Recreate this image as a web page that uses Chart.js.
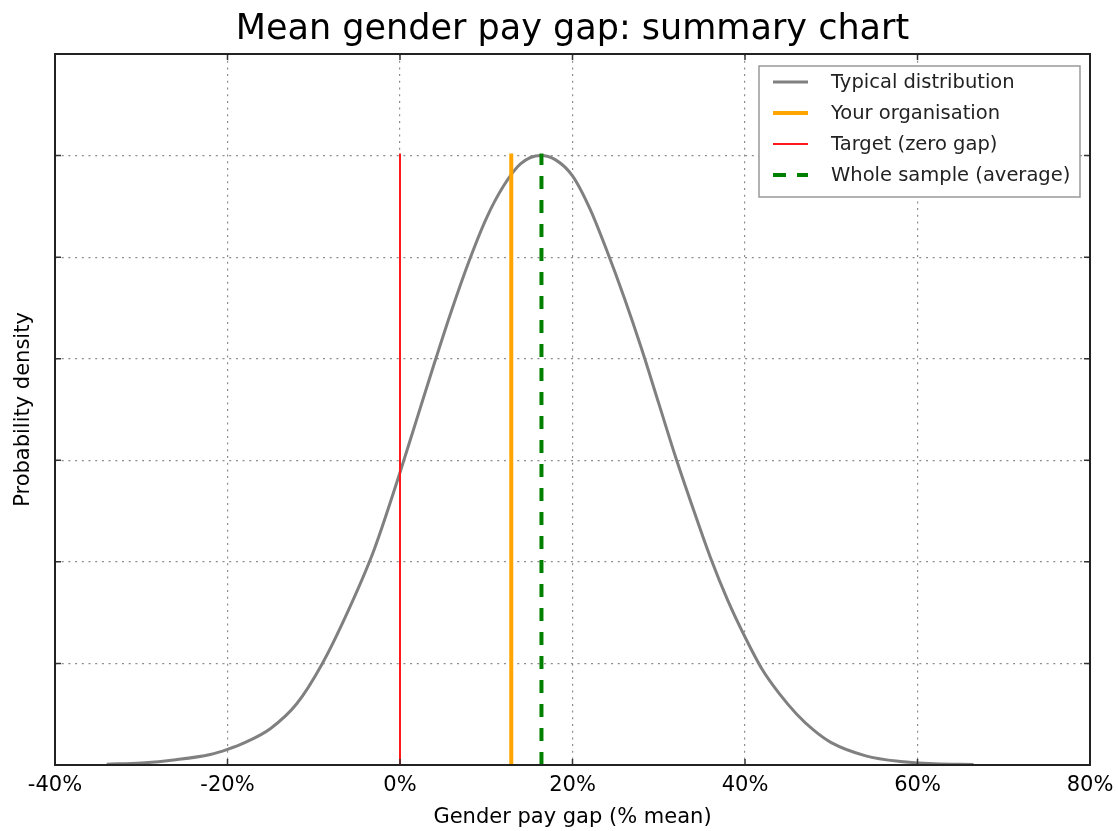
<!DOCTYPE html>
<html>
<head>
<meta charset="utf-8">
<title>Mean gender pay gap: summary chart</title>
<script src="https://cdn.jsdelivr.net/npm/chart.js@4.4.0/dist/chart.umd.min.js"></script>
<style>
  html, body { margin: 0; padding: 0; background: #fff; }
</style>
</head>
<body>
<canvas id="gapChart" width="1118" height="831"></canvas>
<script>
// values
const gapPct = [-34, -30, -26, -22, -20, -18, -15, -12, -9, -6, -3, 0, 2, 4, 6, 8, 10, 12, 14, 16.3,
  18, 20, 22, 24, 26, 28, 30, 32, 34, 36, 38, 40, 42, 44, 46, 48, 50, 54, 58, 62, 66.5];
const density = [0.00004, 0.0001, 0.00026, 0.00052, 0.00077, 0.0011, 0.0018, 0.0030, 0.0050, 0.0076,
  0.0106, 0.0144, 0.0171, 0.0198, 0.0224, 0.0248, 0.0269, 0.0285, 0.0296, 0.0300,
  0.0298, 0.0290, 0.0274, 0.0253, 0.0230, 0.0205, 0.0178, 0.0151, 0.0126, 0.0102,
  0.0081, 0.0063, 0.0047, 0.0035, 0.0025, 0.0017, 0.0011, 0.00045, 0.00017, 0.00006, 0.00003];

const orgGap = 12.9;      // your organisation
const targetGap = 0;      // zero gap
const sampleGap = 16.4;   // whole sample average
const markerTop = 0.0301; // height of the vertical markers

const xTicks = [-40, -20, 0, 20, 40, 60, 80];

const FONT = "'DejaVu Sans', 'Liberation Sans', Arial, sans-serif";
Chart.defaults.font.family = FONT;
Chart.defaults.color = "#111";

function vline(x) {
  return [{ x: x, y: 0 }, { x: x, y: markerTop }];
}

// frame with inward ticks, like the original plot
const frame = {
  id: "frame",
  afterDatasetsDraw(chart) {
    const { ctx, chartArea: a, scales } = chart;
    ctx.save();
    ctx.strokeStyle = "#333";
    ctx.lineWidth = 1.5;
    const t = 6;
    ctx.beginPath();
    xTicks.forEach(v => {
      const px = scales.x.getPixelForValue(v);
      ctx.moveTo(px, a.bottom); ctx.lineTo(px, a.bottom - t);
      ctx.moveTo(px, a.top); ctx.lineTo(px, a.top + t);
    });
    scales.y.ticks.forEach(tk => {
      const py = scales.y.getPixelForValue(tk.value);
      ctx.moveTo(a.left, py); ctx.lineTo(a.left + t, py);
      ctx.moveTo(a.right, py); ctx.lineTo(a.right - t, py);
    });
    ctx.stroke();
    ctx.lineWidth = 2;
    ctx.strokeStyle = "#222";
    ctx.strokeRect(a.left, a.top, a.right - a.left, a.bottom - a.top);
    ctx.restore();
  }
};

const legendBox = {
  id: "legendBox",
  afterDraw(chart) {
    const { ctx, chartArea } = chart;
    const w = 321, h = 131;
    const x0 = chartArea.right - 10 - w;
    const y0 = chartArea.top + 12;
    ctx.save();
    ctx.fillStyle = "#fff";
    ctx.fillRect(x0, y0, w, h);
    ctx.strokeStyle = "#999";
    ctx.lineWidth = 1.5;
    ctx.strokeRect(x0, y0, w, h);
    ctx.font = "19.5px " + FONT;
    ctx.textBaseline = "middle";
    chart.data.datasets.forEach((ds, i) => {
      const y = y0 + 16 + i * 31;
      ctx.beginPath();
      ctx.strokeStyle = ds.borderColor;
      ctx.lineWidth = ds.borderWidth;
      ctx.setLineDash(ds.borderDash || []);
      ctx.moveTo(x0 + 14, y);
      ctx.lineTo(x0 + 49, y);
      ctx.stroke();
      ctx.setLineDash([]);
      ctx.fillStyle = "#222";
      ctx.fillText(ds.label, x0 + 72, y + 1);
    });
    ctx.restore();
  }
};

new Chart(document.getElementById("gapChart"), {
  type: "line",
  data: {
    datasets: [
      {
        label: "Typical distribution",
        data: gapPct.map((g, i) => ({ x: g, y: density[i] })),
        borderColor: "#808080",
        borderWidth: 3,
        cubicInterpolationMode: "monotone",
        order: 4
      },
      {
        label: "Your organisation",
        data: vline(orgGap),
        borderColor: "#ffa500",
        borderWidth: 4,
        order: 2
      },
      {
        label: "Target (zero gap)",
        data: vline(targetGap),
        borderColor: "#ff1a1a",
        borderWidth: 2,
        order: 3
      },
      {
        label: "Whole sample (average)",
        data: vline(sampleGap),
        borderColor: "#008000",
        borderWidth: 4,
        borderDash: [13, 11],
        order: 1
      }
    ]
  },
  options: {
    responsive: false,
    animation: false,
    elements: { point: { radius: 0 } },
    layout: { padding: { left: 0, right: 28, top: 0, bottom: 0 } },
    plugins: {
      legend: { display: false },
      tooltip: { enabled: false },
      title: {
        display: true,
        fullSize: false,
        text: "Mean gender pay gap: summary chart",
        font: { size: 35, weight: "normal", family: FONT },
        color: "#000",
        padding: { top: 9, bottom: 3 }
      }
    },
    scales: {
      x: {
        type: "linear",
        min: -40,
        max: 80,
        afterBuildTicks: axis => { axis.ticks = xTicks.map(v => ({ value: v })); },
        ticks: {
          callback: v => v + "%",
          font: { size: 21 },
          color: "#000",
          padding: 8,
          maxRotation: 0
        },
        grid: { color: "#8c8c8c", lineWidth: 1.2, drawTicks: false },
        border: { display: false, dash: [2, 4.7] },
        title: {
          display: true,
          text: "Gender pay gap (% mean)",
          font: { size: 21, lineHeight: 1 },
          color: "#000",
          padding: { top: 0, bottom: 3 }
        },
        afterFit: axis => {
          axis.height = 66;
          axis.paddingLeft = 0;
          axis.paddingRight = 0;
        }
      },
      y: {
        min: 0,
        max: 0.035,
        ticks: { stepSize: 0.005, display: false },
        grid: { color: "#8c8c8c", lineWidth: 1.2, drawTicks: false },
        border: { display: false, dash: [2, 4.7] },
        title: {
          display: true,
          text: "Probability density",
          font: { size: 21, lineHeight: 1 },
          color: "#000",
          padding: { top: 13, bottom: 0 }
        },
        afterFit: axis => { axis.width = 55; }
      }
    }
  },
  plugins: [frame, legendBox]
});
</script>
</body>
</html>
